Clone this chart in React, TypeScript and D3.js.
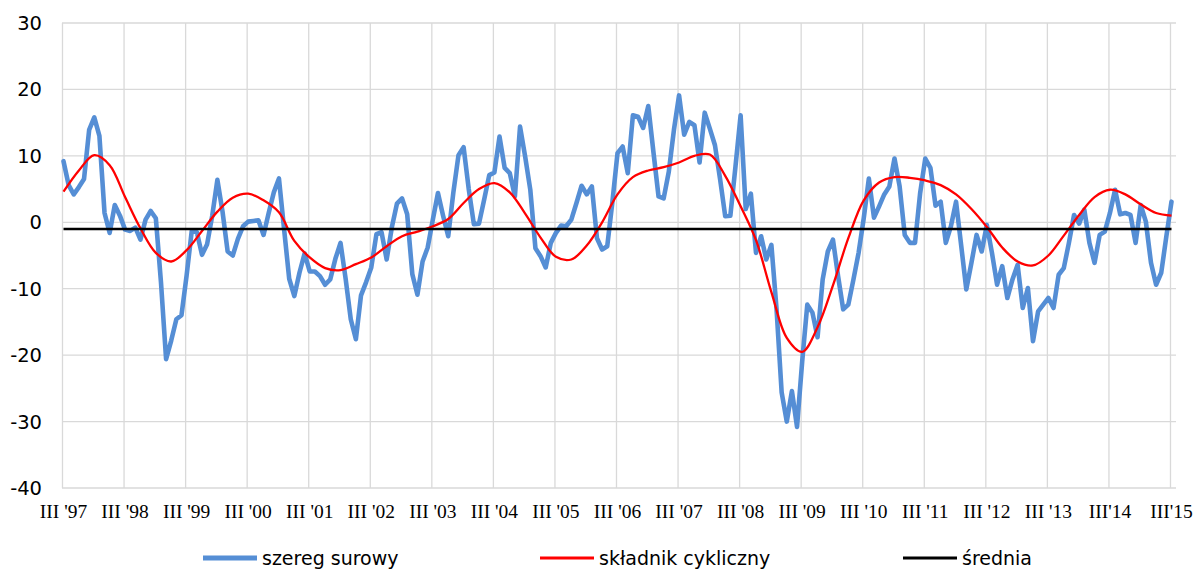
import React from "react";
import * as d3 from "d3";

// Monthly raw series, Mar 1997 .. Mar 2015
const rawSeries: number[] = [
  9.2, 5.6, 4.2, 5.3, 6.5, 13.9, 15.8, 13.0, 1.4, -1.6, 2.6, 1.0,
  -1.1, -1.3, -0.8, -2.6, 0.4, 1.7, 0.6, -9.0, -20.6, -17.8, -14.6, -14.0,
  -8.0, -1.3, -1.5, -4.9, -3.3, 1.0, 6.4, 1.6, -4.4, -5.0, -2.5, -0.6,
  0.1, 0.2, 0.3, -1.9, 1.4, 4.5, 6.6, -1.0, -8.5, -11.1, -7.6, -4.7,
  -7.4, -7.4, -8.1, -9.4, -8.6, -5.5, -3.1, -8.5, -14.6, -17.6, -11.0, -9.0,
  -6.8, -1.8, -1.5, -5.6, -0.8, 2.8, 3.6, 1.2, -7.8, -10.9, -5.9, -3.8,
  0.4, 4.4, 1.0, -2.1, 4.5, 10.1, 11.3, 5.0, -0.3, -0.2, 3.4, 7.1,
  7.5, 12.9, 8.2, 7.4, 3.9, 14.4, 9.9, 4.9, -3.9, -5.1, -6.8, -3.1,
  -1.6, -0.5, -0.6, 0.4, 2.9, 5.5, 4.2, 5.4, -2.4, -4.1, -3.6, 3.0,
  10.4, 11.4, 7.4, 16.1, 15.9, 14.2, 17.5, 10.6, 3.9, 3.6, 7.6, 13.9,
  19.1, 13.2, 15.1, 14.6, 9.0, 16.5, 14.1, 11.6, 6.5, 0.9, 1.0, 8.4,
  16.1, 2.0, 4.3, -4.6, -2.1, -5.6, -3.4, -13.0, -25.6, -30.0, -25.4, -30.8,
  -21.0, -12.4, -13.6, -17.3, -8.6, -4.4, -2.6, -8.1, -13.1, -12.4, -8.6, -4.6,
  0.6, 6.6, 0.7, 2.4, 4.2, 5.4, 9.6, 5.4, -1.9, -3.1, -3.1, 4.4,
  9.6, 8.2, 2.5, 3.1, -3.1, -0.6, 3.1, -3.5, -10.1, -6.1, -1.9, -4.4,
  -0.4, -4.6, -9.4, -6.6, -11.4, -8.6, -6.4, -12.9, -9.9, -17.9, -13.4, -12.4,
  -11.4, -12.9, -7.9, -6.9, -3.1, 1.1, -0.2, 1.9, -3.1, -6.1, -1.9, -1.4,
  1.4, 4.9, 1.2, 1.4, 1.1, -3.1, 2.6, 0.1, -6.1, -9.4, -7.6, -2.1,
  3.1,
];

// Cyclical component, read every 3 months (Mar 1997 .. Mar 2015)
const cyclicalStep = 3;
const cyclicalSeries: number[] = [
  4.6, 7.8, 10.1, 8.6, 3.8, -0.9, -4.6, -5.9, -4.2, -1.3, 1.6, 3.7,
  4.3, 3.3, 1.5, -2.8, -5.3, -6.9, -7.2, -6.3, -5.3, -3.6, -2.1, -1.4,
  -0.6, 0.5, 2.9, 5.0, 5.9, 4.5, 1.3, -2.3, -5.2, -5.6, -3.5, 0.0,
  4.2, 6.8, 7.8, 8.3, 9.0, 10.0, 10.2, 7.0, 2.4, -2.7, -10.5, -17.4,
  -19.5, -15.8, -9.5, -2.4, 3.3, 6.0, 6.8, 6.7, 6.3, 5.6, 4.2, 2.0,
  -0.7, -3.8, -5.9, -6.5, -5.0, -2.0, 1.1, 3.8, 4.9, 4.2, 2.7, 1.4,
  1.0,
];

const meanValue = -1.0;

const xTickLabels: string[] = [
  "III '97", "III '98", "III '99", "III '00", "III '01", "III '02", "III '03",
  "III '04", "III '05", "III '06", "III '07", "III '08", "III '09", "III '10",
  "III '11", "III '12", "III '13", "III'14", "III'15",
];
const yTicks: number[] = [-40, -30, -20, -10, 0, 10, 20, 30];

const legendItems = [
  { label: "szereg surowy", color: "#558ED5", width: 5 },
  { label: "składnik cykliczny", color: "#FF0000", width: 3 },
  { label: "średnia", color: "#000000", width: 3 },
];

export default function App() {
  const W = 1198;
  const H = 572;
  const plotLeft = 62;
  const plotRight = 1176;
  const plotTop = 23;
  const plotBottom = 488;

  const n = rawSeries.length;
  const x = d3.scaleLinear().domain([0, n - 1]).range([63.5, 1171.5]);
  const y = d3.scaleLinear().domain([-40, 30]).range([plotBottom, plotTop]);

  const rawLine = d3
    .line<number>()
    .x((_, i) => x(i))
    .y((d) => y(d));

  const cycLine = d3
    .line<number>()
    .x((_, i) => x(i * cyclicalStep))
    .y((d) => y(d))
    .curve(d3.curveCatmullRom.alpha(0.5));

  const sansFont = "'DejaVu Sans', Verdana, sans-serif";
  const serifFont = "'Liberation Serif', 'Times New Roman', serif";

  const legendX = [203, 540, 903];

  return (
    <svg
      width={W}
      height={H}
      style={{ position: "absolute", left: 0, top: 0, background: "#fff" }}
    >
      <rect x={0} y={0} width={W} height={H} fill="#fff" />
      {yTicks.map((t) => (
        <line
          key={"h" + t}
          x1={plotLeft}
          x2={plotRight}
          y1={y(t)}
          y2={y(t)}
          stroke="#D9D9D9"
          strokeWidth={1.3}
        />
      ))}
      {xTickLabels.map((_, k) => (
        <line
          key={"v" + k}
          x1={x(k * 12) - 1}
          x2={x(k * 12) - 1}
          y1={plotTop}
          y2={plotBottom}
          stroke="#D9D9D9"
          strokeWidth={1.3}
        />
      ))}
      {yTicks.map((t) => (
        <text
          key={"yl" + t}
          x={42}
          y={y(t)}
          dy="0.36em"
          textAnchor="end"
          fontFamily={sansFont}
          fontSize={19.5}
          fill="#000"
        >
          {t}
        </text>
      ))}
      {xTickLabels.map((lab, k) => (
        <text
          key={"xl" + k}
          x={x(k * 12)}
          y={518}
          textAnchor="middle"
          fontFamily={serifFont}
          fontSize={19.5}
          fill="#000"
        >
          {lab}
        </text>
      ))}
      <path
        d={rawLine(rawSeries) || ""}
        fill="none"
        stroke="#558ED5"
        strokeWidth={4.6}
        strokeLinejoin="round"
        strokeLinecap="round"
      />
      <path
        d={cycLine(cyclicalSeries) || ""}
        fill="none"
        stroke="#FF0000"
        strokeWidth={2.3}
        strokeLinejoin="round"
      />
      <line
        x1={x(0)}
        x2={x(n - 1)}
        y1={y(meanValue)}
        y2={y(meanValue)}
        stroke="#000"
        strokeWidth={2.4}
      />
      {legendItems.map((it, i) => (
        <g key={"lg" + i}>
          <line
            x1={legendX[i]}
            x2={legendX[i] + 54}
            y1={558}
            y2={558}
            stroke={it.color}
            strokeWidth={it.width}
          />
          <text
            x={legendX[i] + 59}
            y={558}
            dy="0.36em"
            fontFamily={sansFont}
            fontSize={19}
            fill="#000"
          >
            {it.label}
          </text>
        </g>
      ))}
    </svg>
  );
}
